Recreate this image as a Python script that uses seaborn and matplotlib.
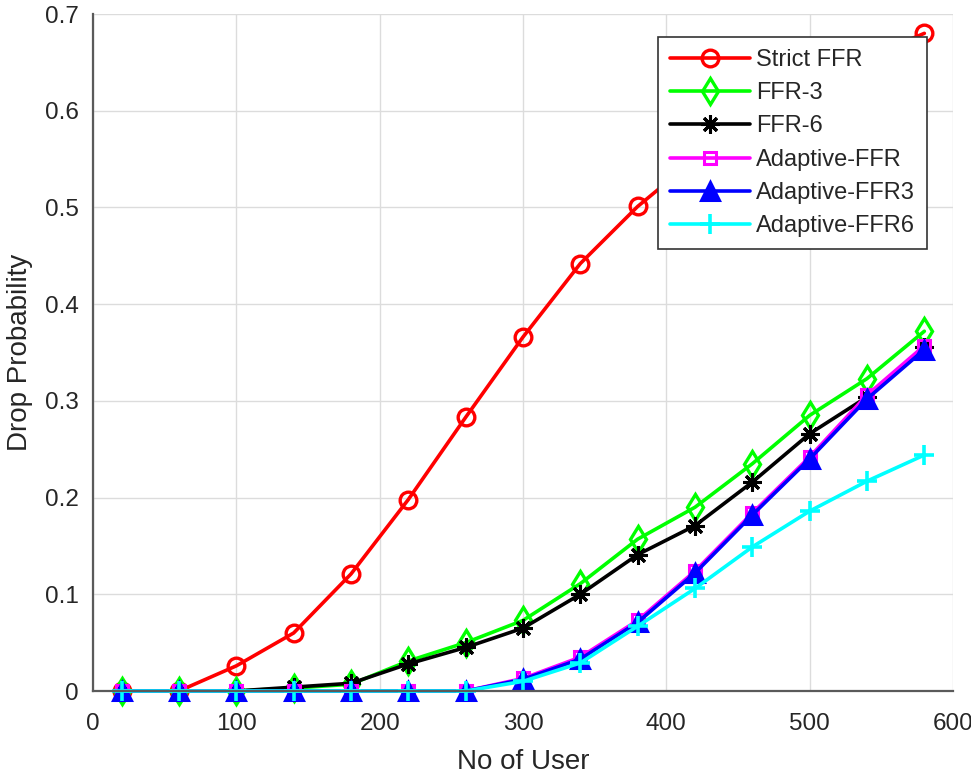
import matplotlib
matplotlib.use("Agg")
import matplotlib.pyplot as plt
import seaborn as sns
import pandas as pd

users = [20, 60, 100, 140, 180, 220, 260, 300, 340, 380, 420, 460, 500, 540, 580]
strict_ffr = [0, 0, 0.026, 0.060, 0.121, 0.198, 0.283, 0.366, 0.442, 0.501, 0.55, 0.59, 0.625, 0.655, 0.68]
ffr3 = [0, 0, 0, 0.003, 0.007, 0.031, 0.050, 0.073, 0.111, 0.157, 0.190, 0.235, 0.285, 0.323, 0.372]
ffr6 = [0, 0, 0, 0.004, 0.008, 0.028, 0.045, 0.065, 0.100, 0.141, 0.171, 0.216, 0.266, 0.304, 0.356]
adaptive_ffr = [0, 0, 0, 0, 0, 0, 0, 0.013, 0.035, 0.073, 0.124, 0.184, 0.242, 0.306, 0.357]
adaptive_ffr3 = [0, 0, 0, 0, 0, 0, 0, 0.012, 0.033, 0.071, 0.122, 0.182, 0.240, 0.302, 0.353]
adaptive_ffr6 = [0, 0, 0, 0, 0, 0, 0, 0.010, 0.029, 0.067, 0.106, 0.149, 0.186, 0.217, 0.244]

series_names = ["Strict FFR", "FFR-3", "FFR-6", "Adaptive-FFR", "Adaptive-FFR3", "Adaptive-FFR6"]
series_values = [strict_ffr, ffr3, ffr6, adaptive_ffr, adaptive_ffr3, adaptive_ffr6]
colors = ["#ff0000", "#00ff00", "#000000", "#ff00ff", "#0000ff", "#00ffff"]
markers = ["o", "d", (8, 2, 0), "s", "^", "+"]
msizes = [12, 13, 13, 9, 13, 14]
mfaces = ["none", "none", "#000000", "none", "#0000ff", "none"]
mews = [2.4, 2.4, 2.2, 2.2, 2.2, 2.6]

sns.set_style("white")
plt.rcParams["font.family"] = ["Liberation Sans", "DejaVu Sans"]

fig = plt.figure(figsize=(9.71, 7.76), dpi=100)
ax = fig.add_axes([93 / 971, 1 - 691 / 776, (953 - 93) / 971, (691 - 14) / 776])

for name, vals, c, m, ms, mf, mw in zip(series_names, series_values, colors, markers, msizes, mfaces, mews):
    df = pd.DataFrame({"users": users, "p": vals})
    sns.lineplot(data=df, x="users", y="p", ax=ax, color=c, linewidth=2.6,
                 marker=m, markersize=ms, markerfacecolor=mf, markeredgecolor=c,
                 markeredgewidth=mw, label=name, clip_on=False)

ax.set_xlim(0, 600)
ax.set_ylim(0, 0.7)
ax.set_xticks([0, 100, 200, 300, 400, 500, 600])
ax.set_yticks([0, 0.1, 0.2, 0.3, 0.4, 0.5, 0.6, 0.7])
ax.set_yticklabels(["0", "0.1", "0.2", "0.3", "0.4", "0.5", "0.6", "0.7"])
ax.grid(True, color="#dcdcdc", linewidth=1.0)
ax.set_axisbelow(True)
for s in ["top", "right"]:
    ax.spines[s].set_visible(False)
for s in ["left", "bottom"]:
    ax.spines[s].set_color("#5a5a5a")
    ax.spines[s].set_linewidth(1.6)
ax.tick_params(axis="both", direction="in", length=7, width=1.4, color="#5a5a5a",
               labelsize=17.5, labelcolor="#262626")
ax.tick_params(axis="x", pad=16)
ax.tick_params(axis="y", pad=10)
ax.set_xlabel("No of User", fontsize=20, color="#262626", labelpad=10)
ax.set_ylabel("Drop Probability", fontsize=20, color="#262626", labelpad=9)

leg = ax.legend(loc="upper right", bbox_to_anchor=((927 - 93) / 860, (691 - 37) / 677),
                borderaxespad=0, fontsize=17, handlelength=3.4, labelspacing=0.48,
                handletextpad=0.25, borderpad=0.5, fancybox=False, framealpha=1,
                edgecolor="#333333")
leg.get_frame().set_linewidth(1.2)

fig.savefig("out.png", dpi=100)
